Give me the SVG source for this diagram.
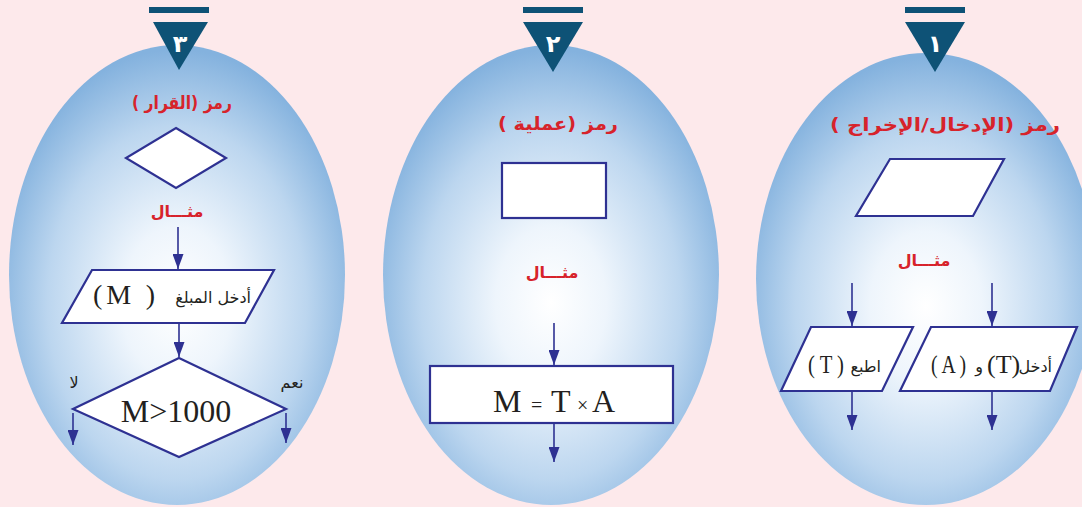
<svg xmlns="http://www.w3.org/2000/svg" width="1082" height="507" viewBox="0 0 1082 507">
<defs>
<radialGradient id="eg" cx="0.5" cy="0.56" r="0.55">
<stop offset="0" stop-color="#ffffff"/>
<stop offset="0.3" stop-color="#eef5fc"/>
<stop offset="0.7" stop-color="#bcd6ef"/>
<stop offset="1" stop-color="#84b2de"/>
</radialGradient>
<marker id="ah" markerUnits="userSpaceOnUse" markerWidth="16" markerHeight="11" refX="15" refY="5.5" orient="auto">
<path d="M0,0 L15,5.5 L0,11 z" fill="#2e3192"/>
</marker>
<style>
.ell{fill:url(#eg)}
.badge{fill:#0e5276}
.num{fill:#fff;font-family:"DejaVu Sans",sans-serif;font-weight:bold;font-size:24px;text-anchor:middle}
.title{fill:#d7232b;font-family:"DejaVu Sans",sans-serif;font-weight:bold;font-size:18px;text-anchor:middle;direction:rtl}
.ex{fill:#d7232b;font-family:"DejaVu Sans",sans-serif;font-weight:bold;font-size:16px;text-anchor:middle;direction:rtl}
.shape{fill:#fff;stroke:#2e3192;stroke-width:2.2}
.ar{fill:#231f20;font-family:"DejaVu Sans",sans-serif;font-size:16px;direction:rtl}
.lat{fill:#231f20;font-family:"Liberation Serif",serif}
.conn line{stroke:#2e3192;stroke-width:1.6;marker-end:url(#ah)}
</style>
</defs>
<rect x="0" y="0" width="1082" height="507" fill="#fde9eb"/>

<g id="panel3">
<ellipse class="ell" cx="177" cy="275" rx="168" ry="230"/>
<rect class="badge" x="149" y="7" width="60" height="6"/>
<polygon class="badge" points="153,22 208,22 179,70"/>
<text class="num" x="180" y="52">٣</text>
<text class="title" x="182" y="109" textLength="100" lengthAdjust="spacingAndGlyphs">رمز (القرار )</text>
</g>
<g id="decision-symbol"><polygon class="shape" points="176,128 226,158 176,188 126,158"/></g>
<g id="example3"><text class="ex" x="177" y="217">مثـــال</text></g>
<g id="input-amount">
<polygon class="shape" points="92,270 274,270 245,323 62,323"/>
<text class="lat" x="93" y="304" font-size="28" textLength="62" lengthAdjust="spacing">(M )</text>
<text class="ar" x="251" y="303" text-anchor="start">أدخل المبلغ</text>
</g>
<g id="decision">
<polygon class="shape" points="179,358 286,409 179,457 73,409"/>
<text class="lat" x="176" y="422" font-size="32" text-anchor="middle">M&gt;1000</text>
</g>
<g id="label-no"><text class="ar" x="74" y="388" text-anchor="middle">لا</text></g>
<g id="label-yes"><text class="ar" x="292" y="388" text-anchor="middle">نعم</text></g>

<g id="panel2">
<ellipse class="ell" cx="551" cy="275" rx="168" ry="230"/>
<rect class="badge" x="523" y="7" width="60" height="6"/>
<polygon class="badge" points="523,22 583,22 553,72"/>
<text class="num" x="553" y="52">٢</text>
<text class="title" x="558" y="130" textLength="120" lengthAdjust="spacingAndGlyphs">رمز (عملية )</text>
</g>
<g id="process-symbol"><rect class="shape" x="502" y="163" width="104" height="55"/></g>
<g id="example2"><text class="ex" x="552" y="278">مثـــال</text></g>
<g id="process">
<rect class="shape" x="430" y="366" width="243" height="57"/>
<text class="lat" y="412"><tspan x="493" font-size="32">M</tspan><tspan x="531" font-size="20">=</tspan><tspan x="551" font-size="32">T</tspan><tspan x="577" font-size="20">×</tspan><tspan x="592" font-size="32">A</tspan></text>
</g>

<g id="panel1">
<ellipse class="ell" cx="926" cy="279" rx="170" ry="226"/>
<rect class="badge" x="905" y="7" width="60" height="6"/>
<polygon class="badge" points="905,22 965,22 935,72"/>
<text class="num" x="935" y="52">١</text>
<text class="title" x="945" y="131" textLength="230" lengthAdjust="spacingAndGlyphs">رمز (الإدخال/الإخراج )</text>
</g>
<g id="io-symbol"><polygon class="shape" points="890,159 1004,159 973,216 856,216"/></g>
<g id="example1"><text class="ex" x="924" y="266">مثـــال</text></g>
<g id="print-T">
<polygon class="shape" points="811,327 913,327 882,391 781,391"/>
<text class="lat" x="808" y="373" font-size="26" textLength="36" lengthAdjust="spacingAndGlyphs">( T )</text>
<text class="ar" x="881" y="372" text-anchor="start">اطبع</text>
</g>
<g id="input-TA">
<polygon class="shape" points="931,327 1077,327 1050,391 900,391"/>
<text class="lat" x="931" y="373" font-size="26" textLength="35" lengthAdjust="spacingAndGlyphs">( A )</text>
<text class="ar" x="983" y="372" text-anchor="start">و</text>
<text class="lat" x="987" y="373" font-size="26">(T)</text>
<text class="ar" x="1052" y="372" text-anchor="start">أدخل</text>
</g>

<g id="connectors" class="conn">
<line x1="178" y1="227" x2="178" y2="269"/>
<line x1="179" y1="323" x2="179" y2="357"/>
<line x1="73" y1="413" x2="73" y2="445"/>
<line x1="286" y1="413" x2="286" y2="443"/>
<line x1="554" y1="323" x2="554" y2="365"/>
<line x1="554" y1="423" x2="554" y2="462"/>
<line x1="852" y1="283" x2="852" y2="326"/>
<line x1="992" y1="283" x2="992" y2="326"/>
<line x1="852" y1="391" x2="852" y2="430"/>
<line x1="992" y1="391" x2="992" y2="430"/>
</g>
</svg>
